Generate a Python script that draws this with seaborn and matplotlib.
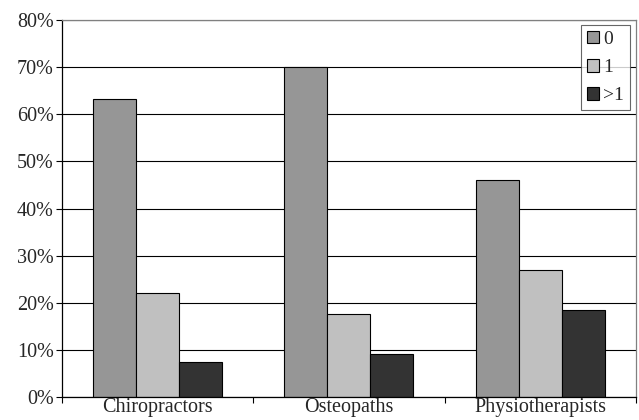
import pandas as pd
import numpy as np
import matplotlib.pyplot as plt
import seaborn as sns
from matplotlib.ticker import FixedLocator

professions = ['Chiropractors', 'Osteopaths', 'Physiotherapists']
groups = ['0', '1', '>1']
val_0 = [63.2, 70.0, 46.1]
val_1 = [22.1, 17.6, 27.0]
val_gt1 = [7.4, 9.1, 18.5]
yticks = [0, 10, 20, 30, 40, 50, 60, 70, 80]

df = pd.DataFrame({
    'profession': professions * 3,
    'group': [g for g in groups for _ in professions],
    'pct': val_0 + val_1 + val_gt1,
})

sns.set_style('white')
plt.rcParams['font.family'] = ['Liberation Serif', 'DejaVu Serif']

fig = plt.figure(figsize=(6.39, 4.2), dpi=100)
ax = fig.add_axes([0.097, 0.055, 0.898, 0.897])

sns.barplot(data=df, x='profession', y='pct', hue='group', hue_order=groups,
            palette=['#969696', '#c0c0c0', '#333333'], width=0.675, gap=0,
            edgecolor='black', linewidth=0.8, saturation=1, ax=ax)

ax.set_ylim(0, 80)
ax.set_xlim(-0.5, 2.5)
ax.set_yticks(yticks)
ax.set_yticklabels([f'{t}%' for t in yticks], fontsize=14.5)
ax.set_xticklabels(professions, fontsize=14.5)
ax.xaxis.set_minor_locator(FixedLocator([-0.5, 0.5, 1.5, 2.5]))
ax.tick_params(axis='x', which='major', length=0, pad=1)
ax.tick_params(axis='x', which='minor', length=4, width=0.8, color='black', bottom=True)
ax.tick_params(axis='y', length=4, width=0.8, color='black', left=True, pad=2)
ax.set_xlabel('')
ax.set_ylabel('')

ax.yaxis.grid(True, color='black', linewidth=0.8)
ax.set_axisbelow(True)
for s in ['left', 'bottom']:
    ax.spines[s].set_color('black')
    ax.spines[s].set_linewidth(0.9)
for s in ['top', 'right']:
    ax.spines[s].set_color('#808080')
    ax.spines[s].set_linewidth(0.9)

leg = ax.legend(loc='upper right', bbox_to_anchor=(0.99, 0.988), fontsize=14,
                frameon=True, fancybox=False, handlelength=0.65, handleheight=0.65,
                handletextpad=0.2, labelspacing=0.56, borderpad=0.3, borderaxespad=0)
leg.get_frame().set_edgecolor('#404040')
leg.get_frame().set_linewidth(0.8)

fig.savefig('out.png', dpi=100)
